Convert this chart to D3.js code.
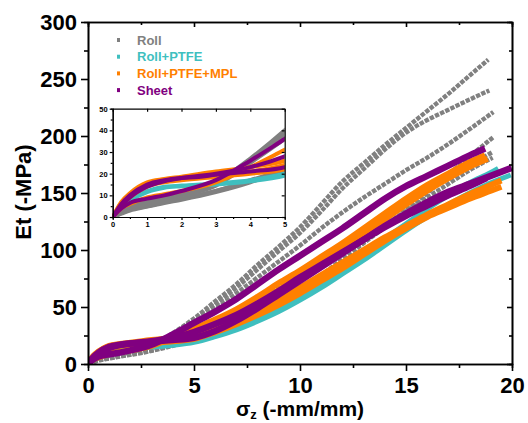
<!DOCTYPE html>
<html>
<head>
<meta charset="utf-8">
<script src="https://cdn.jsdelivr.net/npm/d3@7/dist/d3.min.js"></script>
<style>
    body { margin: 0; background: #fff; }
    svg { display: block; font-family: "Liberation Sans", Arial, sans-serif; font-weight: bold; }
</style>
</head>
<body>
<div id="chart"></div>
<script>
// legend
const groupNames = ['Roll', 'Roll+PTFE', 'Roll+PTFE+MPL', 'Sheet'];
const groupColors = ['#808080', '#3FBFBF', '#FF8000', '#800080'];

// strain (-mm/mm), Et (-MPa) pairs
const rollCurves = [
    [[0,0],[0.25,3],[0.5,5],[1,7.5],[1.5,9.5],[2,11],[3,16],[4,27],[5,40],[6,55],[7,70],[8,87],[9,103],[10,120],[11,140],[12,160],[13,176],[14,192],[15,207],[16,222],[17,237],[18,253],[18.88,267]],
    [[0,0],[0.25,2.5],[0.5,4.5],[1,7],[1.5,9],[2,10.5],[3,15],[4,26],[5,38],[6,52],[7,67],[8,83],[9,99],[10,115],[11,134],[12,154],[13,171],[14,188],[15,203],[16,214],[17,223],[18,232],[18.93,240]],
    [[0,0],[0.25,2.5],[0.5,4],[1,6.5],[1.5,8.5],[2,10],[3,14.5],[4,25],[5,36],[6,48],[7,62],[8,76],[9,90],[10,104],[11,119],[12,133],[13,146],[14,158],[15,170],[16,181],[17,193],[18,206],[19.12,221]],
    [[0,0],[0.25,1.5],[0.5,3],[1,4.8],[1.5,6.5],[2,8],[3,11.5],[4,16],[5,22],[6,30],[7,38],[8,47],[9,56],[10,66],[11,78],[12,92],[13,106],[14,120],[15,135],[16,150],[17,166],[18,182],[19.12,199]],
    [[0,0],[0.25,1.8],[0.5,3.5],[1,5.2],[1.5,7],[2,8.5],[3,12],[4,17],[5,22.5],[6,33],[7,44],[8,56],[9,68],[10,80],[11,92],[12,104],[13,116],[14,128],[15,140],[16,152],[17,163],[18,174],[19.09,186]],
    [[0,0],[0.25,2],[0.5,3.5],[1,5],[1.5,6.8],[2,8.3],[3,12],[4,16.5],[5,21.7],[6,31],[7,41],[8,52],[9,63],[10,74],[11,86],[12,98],[13,110],[14,122],[15,134],[16,146],[17,158],[18,170],[19.09,181]]
];
const rollPtfeCurves = [
    [[0,0],[0.25,5],[0.5,8],[1,12],[1.5,14],[2,14.5],[3,15.5],[4,17],[5,20],[6,25],[7,31],[8,39],[9,48],[10,59],[11,71],[12,84],[13,97],[14,110],[15,123],[16,136],[17,148],[18,159],[19,168],[19.35,171.6]],
    [[0,0],[0.25,4.5],[0.5,7.5],[1,11.5],[1.5,13.5],[2,14.2],[3,15],[4,16.5],[5,19],[6,24],[7,30],[8,37.5],[9,46],[10,56],[11,67],[12,79],[13,91],[14,104],[15,117],[16,129],[17,140],[18,150],[19,159],[19.94,165.8]]
];
const rollPtfeMplCurves = [
    [[0,0],[0.25,4],[0.5,6],[1,9],[1.5,10.5],[2,12],[3,16],[4,23],[5,31],[6,39],[7,48],[8,59],[9,71],[10,82],[11,94],[12,106],[13,119],[14,132],[15,145],[16,157],[17,167],[18,177],[18.73,183]],
    [[0,0],[0.25,7],[0.5,11],[1,16],[1.5,17.5],[2,18.6],[3,21],[4,23],[5,26],[6,33],[7,42],[8,53],[9,65],[10,77],[11,89],[12,101],[13,114],[14,127],[15,140],[16,152],[17,163],[18,173],[18.85,180]],
    [[0,0],[0.25,6.5],[0.5,10.5],[1,15.5],[1.5,17],[2,18],[3,19.5],[4,21],[5,24],[6,30],[7,38],[8,47],[9,57],[10,67],[11,78],[12,89],[13,100],[14,111],[15,121],[16,131],[17,140],[18,149],[19,157],[19.5,161]],
    [[0,0],[0.25,5.5],[0.5,9],[1,14],[1.5,16],[2,17],[3,18.5],[4,20],[5,22],[6,28],[7,35],[8,43],[9,52],[10,62],[11,73],[12,84],[13,96],[14,108],[15,119],[16,129],[17,137],[18,145],[19,152],[19.5,155.5]]
];
const sheetCurves = [
    [[0,0],[0.25,4],[0.5,6.5],[1,8.5],[1.5,10],[2,12],[3,17],[4,26],[5,36],[6,46],[7,57],[8,70],[9,83],[10,95],[11,107],[12,119],[13,132],[14,145],[15,156],[16,165],[17,174],[18,183],[18.73,189]],
    [[0,0],[0.25,6],[0.5,10],[1,15],[1.5,17],[2,18],[2.5,18.5],[3,19.5],[4,21],[5,23],[6,29],[7,38],[8,49],[9,61],[10,73],[11,85],[12,97],[13,109],[14,121],[15,132],[16,142],[17,151],[18,158],[19,165],[19.98,172]],
    [[0,0],[0.25,5],[0.5,9],[1,14],[1.5,16.5],[2,18],[3,20],[4,23],[5,28],[6,35],[7,43],[8,53],[9,64],[10,76],[11,87],[12,98],[13,109],[14,120],[15,130],[16,139],[17,148],[18,156],[18.8,163]]
];

const xTicks = [0, 5, 10, 15, 20];
const yTicks = [0, 50, 100, 150, 200, 250, 300];
const insetXTicks = [0, 1, 2, 3, 4, 5];
const insetYTicks = [0, 10, 20, 30, 40, 50];

const groups = [rollCurves, rollPtfeCurves, rollPtfeMplCurves, sheetCurves];
const mainWidths = [4.4, 5, 6, 6.5];

const W = 528, H = 423;
const svg = d3.select('#chart').append('svg').attr('width', W).attr('height', H);

const x = d3.scaleLinear().domain([0, 20]).range([88, 512]);
const y = d3.scaleLinear().domain([0, 300]).range([364, 22]);

const defs = svg.append('defs');
defs.append('clipPath').attr('id', 'mainClip').append('rect')
    .attr('x', 88).attr('y', 22).attr('width', 424).attr('height', 342);

const line = d3.line().x(d => x(d[0])).y(d => y(d[1])).curve(d3.curveMonotoneX);

const plot = svg.append('g').attr('clip-path', 'url(#mainClip)');
groups.forEach((curves, gi) => {
    curves.forEach(c => {
        const p = plot.append('path')
            .attr('d', line(c))
            .attr('fill', 'none')
            .attr('stroke', groupColors[gi])
            .attr('stroke-width', mainWidths[gi])
            .attr('stroke-linejoin', 'round');
        // roll curves show their square markers
        if (gi === 0) p.attr('stroke-dasharray', '4.4 1.3');
    });
});

// minor tick helper
function minorOf(major) {
    const out = [];
    for (let i = 0; i < major.length - 1; i++) out.push((major[i] + major[i + 1]) / 2);
    return out;
}

function styleAxis(g, sw) {
    g.selectAll('path.domain').attr('stroke', '#000').attr('stroke-width', sw);
    g.selectAll('.tick line').attr('stroke', '#000').attr('stroke-width', sw);
}

// main axes
const axB = svg.append('g').attr('transform', 'translate(0,364)')
    .call(d3.axisBottom(x).tickValues(xTicks).tickSize(7).tickSizeOuter(0).tickPadding(6));
axB.selectAll('text').attr('font-size', 22).attr('fill', '#000');
styleAxis(axB, 1.6);
const axBm = svg.append('g').attr('transform', 'translate(0,364)')
    .call(d3.axisBottom(x).tickValues(minorOf(xTicks)).tickSize(4).tickFormat(''));
styleAxis(axBm, 1.6);

const axT = svg.append('g').attr('transform', 'translate(0,22)')
    .call(d3.axisTop(x).tickValues(xTicks).tickSize(-5).tickSizeOuter(0).tickFormat(''));
styleAxis(axT, 1.6);
const axTm = svg.append('g').attr('transform', 'translate(0,22)')
    .call(d3.axisTop(x).tickValues(minorOf(xTicks)).tickSize(-3).tickFormat(''));
styleAxis(axTm, 1.6);

const axL = svg.append('g').attr('transform', 'translate(88,0)')
    .call(d3.axisLeft(y).tickValues(yTicks).tickSize(7).tickSizeOuter(0).tickPadding(4));
axL.selectAll('text').attr('font-size', 22).attr('fill', '#000');
styleAxis(axL, 1.6);
const axLm = svg.append('g').attr('transform', 'translate(88,0)')
    .call(d3.axisLeft(y).tickValues(minorOf(yTicks)).tickSize(4).tickFormat(''));
styleAxis(axLm, 1.6);

const axR = svg.append('g').attr('transform', 'translate(512,0)')
    .call(d3.axisRight(y).tickValues(yTicks).tickSize(-5).tickSizeOuter(0).tickFormat(''));
styleAxis(axR, 1.6);
const axRm = svg.append('g').attr('transform', 'translate(512,0)')
    .call(d3.axisRight(y).tickValues(minorOf(yTicks)).tickSize(-3).tickFormat(''));
styleAxis(axRm, 1.6);

// axis titles
svg.append('text')
    .attr('transform', 'translate(31,192) rotate(-90)')
    .attr('text-anchor', 'middle')
    .attr('font-size', 22)
    .text('Et (-MPa)');

const xt = svg.append('text')
    .attr('x', 300).attr('y', 416)
    .attr('text-anchor', 'middle')
    .attr('font-size', 21);
xt.append('tspan').text('σ');
xt.append('tspan').attr('font-size', 13).attr('dy', 3).text('z');
xt.append('tspan').attr('dy', -3).text(' (-mm/mm)');

// legend
const legend = svg.append('g');
groupNames.forEach((name, i) => {
    const cy = 40 + i * 16.7;
    legend.append('rect')
        .attr('x', 117).attr('y', cy - 2)
        .attr('width', 3).attr('height', 4)
        .attr('fill', groupColors[i]);
    legend.append('text')
        .attr('x', 137).attr('y', cy + 4.6)
        .attr('font-size', 13)
        .attr('fill', groupColors[i])
        .text(name);
});

// inset
const ix = d3.scaleLinear().domain([0, 5]).range([112.7, 284.7]);
const iy = d3.scaleLinear().domain([0, 50]).range([217, 108.7]);

svg.append('rect')
    .attr('x', 112.7).attr('y', 108.7)
    .attr('width', 172).attr('height', 108.3)
    .attr('fill', '#fff');

defs.append('clipPath').attr('id', 'insetClip').append('rect')
    .attr('x', 112.7).attr('y', 108.7).attr('width', 172).attr('height', 108.3);

const iline = d3.line().x(d => ix(d[0])).y(d => iy(d[1])).curve(d3.curveMonotoneX);
const inset = svg.append('g').attr('clip-path', 'url(#insetClip)');
groups.forEach((curves, gi) => {
    curves.forEach(c => {
        inset.append('path')
            .attr('d', iline(c.filter(d => d[0] <= 6)))
            .attr('fill', 'none')
            .attr('stroke', groupColors[gi])
            .attr('stroke-width', 4)
            .attr('stroke-linejoin', 'round');
    });
});

const fmt = d3.format('d');
const iaB = svg.append('g').attr('transform', 'translate(0,217)')
    .call(d3.axisBottom(ix).tickValues(insetXTicks).tickFormat(fmt).tickSize(3).tickSizeOuter(0).tickPadding(2));
iaB.selectAll('text').attr('font-size', 7.5).attr('fill', '#000');
styleAxis(iaB, 1.2);
const iaBm = svg.append('g').attr('transform', 'translate(0,217)')
    .call(d3.axisBottom(ix).tickValues(minorOf(insetXTicks)).tickSize(2).tickFormat(''));
styleAxis(iaBm, 1.2);

const iaT = svg.append('g').attr('transform', 'translate(0,108.7)')
    .call(d3.axisTop(ix).tickValues(insetXTicks).tickSize(-3).tickSizeOuter(0).tickFormat(''));
styleAxis(iaT, 1.2);

const iaL = svg.append('g').attr('transform', 'translate(112.7,0)')
    .call(d3.axisLeft(iy).tickValues(insetYTicks).tickFormat(fmt).tickSize(3).tickSizeOuter(0).tickPadding(2));
iaL.selectAll('text').attr('font-size', 7.5).attr('fill', '#000');
styleAxis(iaL, 1.2);
const iaLm = svg.append('g').attr('transform', 'translate(112.7,0)')
    .call(d3.axisLeft(iy).tickValues(minorOf(insetYTicks)).tickSize(2).tickFormat(''));
styleAxis(iaLm, 1.2);

const iaR = svg.append('g').attr('transform', 'translate(284.7,0)')
    .call(d3.axisRight(iy).tickValues(insetYTicks).tickSize(-3).tickSizeOuter(0).tickFormat(''));
styleAxis(iaR, 1.2);
</script>
</body>
</html>
